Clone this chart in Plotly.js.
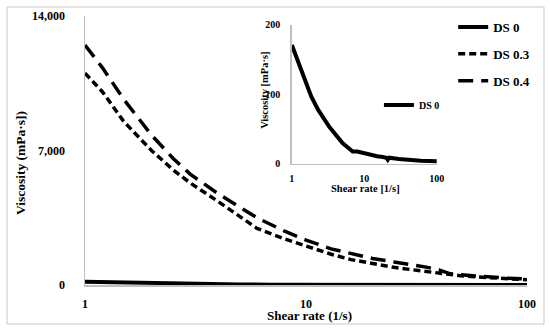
<!DOCTYPE html>
<html><head><meta charset="utf-8">
<script src="https://cdn.plot.ly/plotly-3.0.1.min.js"></script>
<style>html,body{margin:0;padding:0;background:#fff}#chart{width:550px;height:332px}</style>
</head><body><div id="chart"></div>
<script>
// Shear rates (1/s) for DS 0.3 and DS 0.4
const shearRate = [1, 1.2, 1.5, 2, 2.5, 3, 4, 5, 6, 8, 10, 13, 16, 20, 25, 30, 35, 40, 45, 50, 63, 80, 100];
const ds03 = [11030, 10050, 8500, 7000, 6000, 5300, 4350, 3550, 2950, 2400, 2020, 1600, 1320, 1100, 920, 800, 700, 610, 540, 480, 400, 320, 270];
const ds04 = [12490, 11300, 9650, 7800, 6600, 5760, 4750, 4050, 3500, 2800, 2340, 1880, 1640, 1380, 1200, 1060, 930, 790, 580, 530, 430, 360, 310];
// Shear rates and viscosity for DS 0
const shearRateDs0 = [1, 1.2, 1.5, 1.85, 2.3, 3.3, 5, 6.9, 8, 10, 12, 15, 18, 20, 21, 22, 30, 42, 60, 100];
const ds0 = [171, 150, 122, 97, 78, 53, 30, 18, 18, 15, 13, 11, 10, 9, 6, 9, 7, 5.5, 4.5, 4];
const seriesNames = ['DS 0', 'DS 0.3', 'DS 0.4'];
const xTickVals = [1, 10, 100];
const xTickText = ['1', '10', '100'];
const yTickMain = [0, 7000, 14000];
const yTickInset = [0, 100, 200];
const titles = {
  mainX: 'Shear rate (1/s)', mainY: 'Viscosity (mPa·s])',
  insetX: 'Shear rate [1/s]', insetY: 'Viscosity [mPa·s]'
};

const FONT = 'Liberation Serif, Times New Roman, serif';
const f = (size) => ({family: FONT, size: size, color: '#000', weight: 'bold'});

const traces = [
  {x: shearRateDs0, y: ds0, name: seriesNames[0], mode: 'lines', xaxis: 'x', yaxis: 'y',
   line: {color: '#000', width: 4}, legendgroup: 'a', legend: 'legend'},
  {x: shearRate, y: ds03, name: seriesNames[1], mode: 'lines', xaxis: 'x', yaxis: 'y',
   line: {color: '#000', width: 3.5, dash: '7px,4px'}, legendgroup: 'b', legend: 'legend'},
  {x: shearRate, y: ds04, name: seriesNames[2], mode: 'lines', xaxis: 'x', yaxis: 'y',
   line: {color: '#000', width: 3.5, dash: '15px,8px'}, legendgroup: 'c', legend: 'legend'},
  {x: shearRateDs0, y: ds0, name: seriesNames[0], mode: 'lines', xaxis: 'x2', yaxis: 'y2',
   line: {color: '#000', width: 4}, legend: 'legend2'}
];

const axCommon = {showgrid: false, zeroline: false, showline: true, linecolor: '#bfbfbf', linewidth: 1.5,
  ticks: 'outside', tickcolor: 'rgba(0,0,0,0)'};

const layout = {
  width: 550, height: 332,
  margin: {l: 85, r: 23, t: 16, b: 47},
  paper_bgcolor: '#fff', plot_bgcolor: 'rgba(0,0,0,0)',
  xaxis: Object.assign({}, axCommon, {type: 'log', range: [0, 2], tickvals: xTickVals, ticktext: xTickText,
    ticklen: 7, tickfont: f(12), anchor: 'y'}),
  yaxis: Object.assign({}, axCommon, {range: [0, 14000], tickvals: yTickMain, tickformat: ',d',
    ticklen: 16, tickfont: f(12), anchor: 'x'}),
  xaxis2: Object.assign({}, axCommon, {type: 'log', range: [0, 2], tickvals: xTickVals, ticktext: xTickText,
    ticklen: 5, tickfont: f(10), anchor: 'y2', domain: [0.468, 0.796]}),
  yaxis2: Object.assign({}, axCommon, {range: [0, 200], tickvals: yTickInset,
    ticklen: 8, tickfont: f(10), anchor: 'x2', domain: [0.450, 0.967]}),
  showlegend: true,
  legend: {x: 0.833, y: 1.015, xanchor: 'left', yanchor: 'top', font: f(13), bgcolor: 'rgba(0,0,0,0)',
    tracegroupgap: 7, traceorder: 'grouped'},
  legend2: {x: 0.665, y: 0.669, xanchor: 'left', yanchor: 'middle', font: f(10), bgcolor: 'rgba(0,0,0,0)'},
  annotations: [
    {text: titles.mainX, xref: 'paper', yref: 'paper', x: 0.509, y: -0.115, showarrow: false, font: f(13), xanchor: 'center', yanchor: 'middle'},
    {text: titles.mainY, xref: 'paper', yref: 'paper', x: -0.147, y: 0.4535, showarrow: false, font: f(13.5), textangle: -90, xanchor: 'center', yanchor: 'middle'},
    {text: titles.insetX, xref: 'paper', yref: 'paper', x: 0.6335, y: 0.357, showarrow: false, font: f(10.5), xanchor: 'center', yanchor: 'middle'},
    {text: titles.insetY, xref: 'paper', yref: 'paper', x: 0.407, y: 0.725, showarrow: false, font: f(10.5), textangle: -90, xanchor: 'center', yanchor: 'middle'}
  ],
  shapes: [
    {type: 'rect', xref: 'paper', yref: 'paper', x0: -0.1765, x1: 1.0385, y0: -0.145, y1: 1.0335,
     line: {color: '#c8c8c8', width: 1}, layer: 'below'}
  ]
};

Plotly.newPlot('chart', traces, layout, {staticPlot: true, displayModeBar: false});
</script>
</body></html>
